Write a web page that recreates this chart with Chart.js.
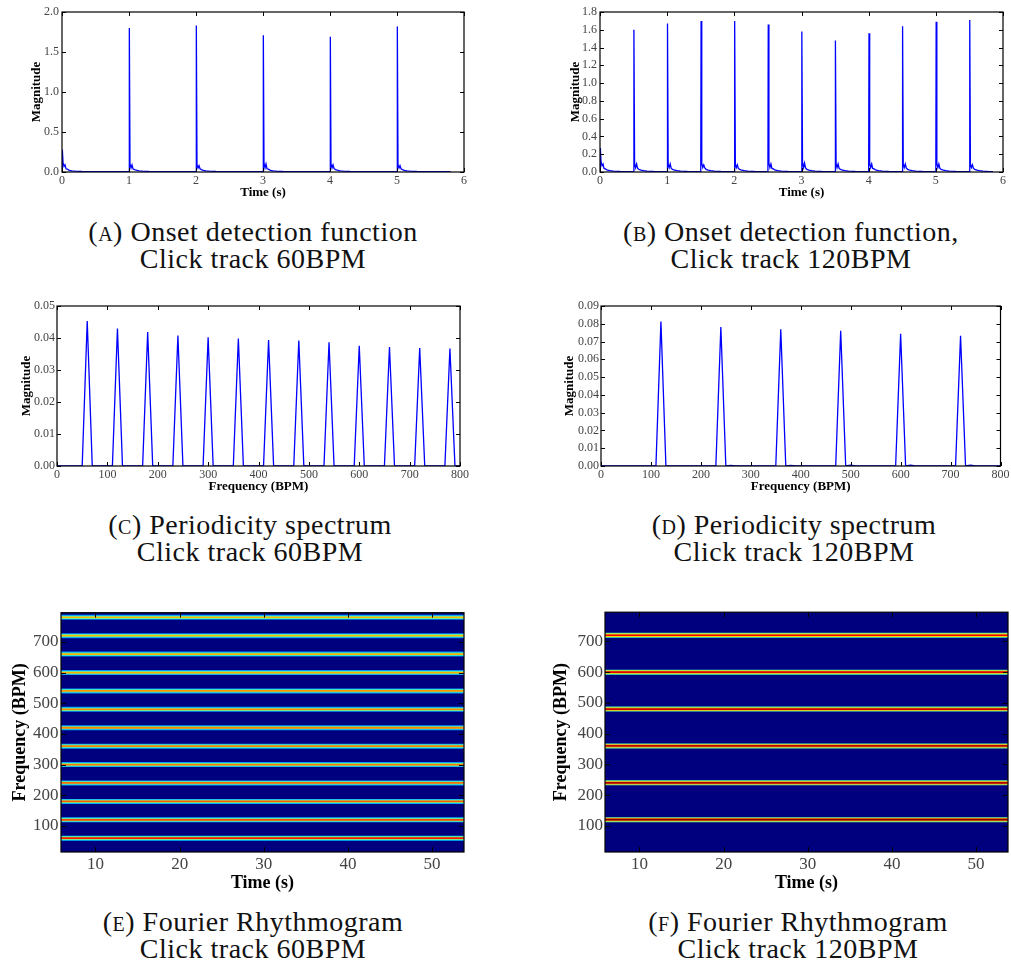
<!DOCTYPE html>
<html>
<head>
<meta charset="utf-8">
<script src="https://cdn.jsdelivr.net/npm/chart.js@4.4.1/dist/chart.umd.min.js"></script>
<style>
  body { margin: 0; background: #fff; width: 1011px; height: 972px; position: relative; overflow: hidden; }
  .box { position: absolute; }
  .cap { position: absolute; width: 500px; text-align: center; font-family: 'Liberation Serif', serif; font-size: 28px; line-height: 27px; color: #111; letter-spacing: 0.5px; }
  .sc { font-variant: small-caps; }
</style>
</head>
<body>
<div class="box" style="left:0;top:0"><canvas id="cA" width="474" height="202"></canvas></div>
<div class="box" style="left:540px;top:0"><canvas id="cB" width="471" height="202"></canvas></div>
<div class="box" style="left:0;top:290px"><canvas id="cC" width="474" height="206"></canvas></div>
<div class="box" style="left:540px;top:290px"><canvas id="cD" width="471" height="206"></canvas></div>
<div class="box" style="left:0;top:600px"><canvas id="cE" width="474" height="297"></canvas></div>
<div class="box" style="left:540px;top:600px"><canvas id="cF" width="471" height="297"></canvas></div>

<div class="cap" style="left:3px;top:218px">(<span class="sc">a</span>) Onset detection function<br>Click track 60BPM</div>
<div class="cap" style="left:541px;top:218px">(<span class="sc">b</span>) Onset detection function,<br>Click track 120BPM</div>
<div class="cap" style="left:0px;top:511px">(<span class="sc">c</span>) Periodicity spectrum<br>Click track 60BPM</div>
<div class="cap" style="left:544px;top:511px">(<span class="sc">d</span>) Periodicity spectrum<br>Click track 120BPM</div>
<div class="cap" style="left:3px;top:908px">(<span class="sc">e</span>) Fourier Rhythmogram<br>Click track 60BPM</div>
<div class="cap" style="left:548px;top:908px">(<span class="sc">f</span>) Fourier Rhythmogram<br>Click track 120BPM</div>

<script>
// --- onset detection function, click track 60 BPM (time in s, magnitude)
const timeA = [
  0, 0.005, 0.015, 0.03, 0.045, 0.06, 0.08, 0.11, 0.15, 0.2, 0.3, 0.45,
  1, 1.005, 1.015, 1.03, 1.045, 1.06, 1.08, 1.11, 1.15, 1.2, 1.3, 1.45,
  2, 2.005, 2.015, 2.03, 2.045, 2.06, 2.08, 2.11, 2.15, 2.2, 2.3, 2.45,
  3, 3.005, 3.015, 3.03, 3.045, 3.06, 3.08, 3.11, 3.15, 3.2, 3.3, 3.45,
  4, 4.005, 4.015, 4.03, 4.045, 4.06, 4.08, 4.11, 4.15, 4.2, 4.3, 4.45,
  5, 5.005, 5.015, 5.03, 5.045, 5.06, 5.08, 5.11, 5.15, 5.2, 5.3, 5.45, 5.8
];
const odfA = [
  0.0, 0.28, 0.12, 0.07, 0.09, 0.04, 0.035, 0.02, 0.015, 0.01, 0.006, 0.004,
  0.003, 1.80, 0.10, 0.05, 0.09, 0.04, 0.03, 0.022, 0.015, 0.01, 0.006, 0.004,
  0.003, 1.83, 0.09, 0.05, 0.08, 0.04, 0.03, 0.02, 0.015, 0.01, 0.006, 0.004,
  0.003, 1.71, 0.11, 0.05, 0.10, 0.04, 0.035, 0.02, 0.015, 0.01, 0.006, 0.004,
  0.003, 1.69, 0.10, 0.05, 0.09, 0.045, 0.03, 0.022, 0.015, 0.01, 0.006, 0.004,
  0.003, 1.82, 0.09, 0.05, 0.08, 0.04, 0.03, 0.02, 0.015, 0.01, 0.006, 0.004, 0.003
];

// --- onset detection function, click track 120 BPM
const timeB = [
  0, 0.005, 0.015, 0.03, 0.045, 0.06, 0.08, 0.11, 0.15, 0.2, 0.3, 0.4,
  0.5, 0.505, 0.515, 0.53, 0.545, 0.56, 0.58, 0.61, 0.65, 0.7, 0.8, 0.9,
  1, 1.005, 1.015, 1.03, 1.045, 1.06, 1.08, 1.11, 1.15, 1.2, 1.3, 1.4,
  1.5, 1.505, 1.515, 1.53, 1.545, 1.56, 1.58, 1.61, 1.65, 1.7, 1.8, 1.9,
  2, 2.005, 2.015, 2.03, 2.045, 2.06, 2.08, 2.11, 2.15, 2.2, 2.3, 2.4,
  2.5, 2.505, 2.515, 2.53, 2.545, 2.56, 2.58, 2.61, 2.65, 2.7, 2.8, 2.9,
  3, 3.005, 3.015, 3.03, 3.045, 3.06, 3.08, 3.11, 3.15, 3.2, 3.3, 3.4,
  3.5, 3.505, 3.515, 3.53, 3.545, 3.56, 3.58, 3.61, 3.65, 3.7, 3.8, 3.9,
  4, 4.005, 4.015, 4.03, 4.045, 4.06, 4.08, 4.11, 4.15, 4.2, 4.3, 4.4,
  4.5, 4.505, 4.515, 4.53, 4.545, 4.56, 4.58, 4.61, 4.65, 4.7, 4.8, 4.9,
  5, 5.005, 5.015, 5.03, 5.045, 5.06, 5.08, 5.11, 5.15, 5.2, 5.3, 5.4,
  5.5, 5.505, 5.515, 5.53, 5.545, 5.56, 5.58, 5.61, 5.65, 5.7, 5.8, 5.85
];
const odfB = [
  0.0, 0.27, 0.12, 0.07, 0.09, 0.04, 0.035, 0.02, 0.015, 0.01, 0.006, 0.004,
  0.003, 1.60, 0.10, 0.05, 0.09, 0.04, 0.03, 0.022, 0.015, 0.01, 0.006, 0.004,
  0.003, 1.67, 0.09, 0.05, 0.09, 0.04, 0.03, 0.02, 0.015, 0.01, 0.006, 0.004,
  0.003, 1.70, 0.10, 0.05, 0.08, 0.045, 0.03, 0.022, 0.015, 0.01, 0.006, 0.004,
  0.003, 1.70, 0.09, 0.05, 0.08, 0.04, 0.03, 0.02, 0.015, 0.01, 0.006, 0.004,
  0.003, 1.66, 0.10, 0.05, 0.09, 0.04, 0.035, 0.02, 0.015, 0.01, 0.006, 0.004,
  0.003, 1.58, 0.11, 0.05, 0.10, 0.045, 0.03, 0.022, 0.015, 0.01, 0.006, 0.004,
  0.003, 1.48, 0.10, 0.05, 0.09, 0.04, 0.03, 0.02, 0.015, 0.01, 0.006, 0.004,
  0.003, 1.56, 0.10, 0.05, 0.09, 0.04, 0.035, 0.02, 0.015, 0.01, 0.006, 0.004,
  0.003, 1.64, 0.09, 0.05, 0.09, 0.045, 0.03, 0.022, 0.015, 0.01, 0.006, 0.004,
  0.003, 1.69, 0.10, 0.05, 0.09, 0.04, 0.03, 0.02, 0.015, 0.01, 0.006, 0.004,
  0.003, 1.71, 0.09, 0.05, 0.08, 0.04, 0.03, 0.022, 0.015, 0.01, 0.005, 0.003
];

// --- periodicity spectra (frequency in BPM)
const freqC = [0, 50, 60, 70, 110, 120, 130, 170, 180, 190, 230, 240, 250, 290, 300, 310,
  350, 360, 370, 410, 420, 430, 470, 480, 490, 530, 540, 550, 590, 600, 610,
  650, 660, 670, 710, 720, 730, 770, 780, 790, 800];
const specC = [0, 0, 0.0453, 0, 0, 0.0430, 0, 0, 0.0419, 0, 0, 0.0408, 0, 0, 0.0402, 0,
  0, 0.0398, 0, 0, 0.0394, 0, 0, 0.0392, 0, 0, 0.0387, 0, 0, 0.0376, 0,
  0, 0.0372, 0, 0, 0.0369, 0, 0, 0.0367, 0, 0];

const freqD = [0, 110, 120, 130, 230, 240, 250, 260, 270, 350, 360, 370, 380, 390,
  470, 480, 490, 500, 510, 590, 600, 610, 620, 630, 710, 720, 730, 740, 750, 800];
const specD = [0, 0, 0.0812, 0, 0, 0.0782, 0, 0.0003, 0, 0, 0.0769, 0, 0.0003, 0,
  0, 0.0761, 0, 0.0005, 0, 0, 0.0744, 0, 0.0005, 0, 0, 0.0733, 0, 0.0005, 0, 0];

// --- rhythmogram rows (band frequency in BPM, band magnitude)
const bandsE = [60, 120, 180, 240, 300, 360, 420, 480, 540, 600, 660, 720, 780];
const levelsE = [0.0453, 0.0430, 0.0419, 0.0408, 0.0402, 0.0398, 0.0394, 0.0392, 0.0387, 0.0376, 0.0372, 0.0369, 0.0367];
const bandsF = [120, 240, 360, 480, 600, 720];
const levelsF = [0.0812, 0.0782, 0.0769, 0.0761, 0.0744, 0.0733];

// tick labels
const ticksTime = [0, 1, 2, 3, 4, 5, 6];
const ticksOdfA = [0, 0.5, 1.0, 1.5, 2.0];
const ticksOdfB = [0, 0.2, 0.4, 0.6, 0.8, 1.0, 1.2, 1.4, 1.6, 1.8];
const ticksBpm = [0, 100, 200, 300, 400, 500, 600, 700, 800];
const ticksSpecC = [0, 0.01, 0.02, 0.03, 0.04, 0.05];
const ticksSpecD = [0, 0.01, 0.02, 0.03, 0.04, 0.05, 0.06, 0.07, 0.08, 0.09];
const ticksRhyX = [10, 20, 30, 40, 50];
const ticksRhyY = [100, 200, 300, 400, 500, 600, 700];

function jet(v) {
  const c = (x) => Math.round(255 * Math.max(0, Math.min(1, x)));
  return "rgb(" + c(1.5 - Math.abs(4 * v - 3)) + "," + c(1.5 - Math.abs(4 * v - 2)) + "," + c(1.5 - Math.abs(4 * v - 1)) + ")";
}

// background, inward ticks on four sides and black frame (matplotlib look)
const framePlugin = {
  id: "frame",
  beforeDatasetsDraw(chart, args, opts) {
    if (!opts.bg) return;
    const a = chart.chartArea, ctx = chart.ctx;
    ctx.save();
    ctx.fillStyle = opts.bg;
    ctx.fillRect(a.left, a.top, a.right - a.left, a.bottom - a.top);
    ctx.restore();
  },
  afterDatasetsDraw(chart, args, opts) {
    const a = chart.chartArea, ctx = chart.ctx;
    const len = opts.len || 4;
    ctx.save();
    ctx.strokeStyle = "#000";
    ctx.lineWidth = 1;
    ctx.beginPath();
    chart.scales.x.ticks.forEach((t) => {
      const px = Math.round(chart.scales.x.getPixelForValue(t.value)) + 0.5;
      ctx.moveTo(px, a.bottom); ctx.lineTo(px, a.bottom - len);
      ctx.moveTo(px, a.top); ctx.lineTo(px, a.top + len);
    });
    chart.scales.y.ticks.forEach((t) => {
      const py = Math.round(chart.scales.y.getPixelForValue(t.value)) + 0.5;
      ctx.moveTo(a.left, py); ctx.lineTo(a.left + len, py);
      ctx.moveTo(a.right, py); ctx.lineTo(a.right - len, py);
    });
    ctx.stroke();
    ctx.lineWidth = opts.frame || 1.2;
    ctx.strokeRect(a.left, a.top, a.right - a.left, a.bottom - a.top);
    ctx.restore();
  }
};
Chart.register(framePlugin);

function makeChart(id, datasets, o) {
  const tickFont = { family: "Liberation Serif", size: o.tickSize };
  const titleFont = { family: "Liberation Serif", size: o.titleSize, weight: "bold", lineHeight: 1.2 };
  return new Chart(document.getElementById(id), {
    type: "line",
    data: { datasets: datasets },
    options: {
      responsive: false,
      animation: false,
      events: [],
      layout: { padding: { top: o.pt, right: o.pr, left: 0, bottom: 0 } },
      elements: { point: { radius: 0 }, line: { tension: 0 } },
      plugins: { legend: { display: false }, tooltip: { enabled: false }, frame: { bg: o.bg, len: o.len } },
      scales: {
        x: {
          type: "linear", min: o.xmin, max: o.xmax,
          afterFit: (s) => { s.height = o.xh; },
          afterBuildTicks: (s) => { s.ticks = o.xticks.map((v) => ({ value: v })); },
          grid: { display: false, drawTicks: false },
          border: { display: false },
          ticks: { autoSkip: false, maxRotation: 0, padding: o.xtp, color: "#444", font: tickFont,
            callback: (v) => v.toFixed(o.xdec) },
          title: { display: true, text: o.xtitle, color: "#000", font: titleFont, padding: { top: 0, bottom: o.xtitlePad } }
        },
        y: {
          type: "linear", min: o.ymin, max: o.ymax,
          afterFit: (s) => { s.width = o.yw; },
          afterBuildTicks: (s) => { s.ticks = o.yticks.map((v) => ({ value: v })); },
          grid: { display: false, drawTicks: false },
          border: { display: false },
          ticks: { autoSkip: false, padding: o.ytp, color: "#444", font: tickFont,
            callback: (v) => v.toFixed(o.ydec) },
          title: { display: true, text: o.ytitle, color: "#000", font: titleFont, padding: { top: o.ytitlePad, bottom: 0 } }
        }
      }
    }
  });
}

function lineSet(xs, ys) {
  return [{ data: xs.map((x, i) => ({ x: x, y: ys[i] })), borderColor: "#0000ff", borderWidth: 1.3, fill: false }];
}

// each band: three stacked stripes coloured with the jet colormap;
// a lower "order" is painted later, so the narrow centre stripe gets the lowest
function bandSets(bands, levels, norm, fracs, widths, xmin, xmax) {
  const sets = [];
  bands.forEach((f, i) => {
    const r = levels[i] / norm;
    fracs.forEach((k, j) => {
      sets.push({ data: [{ x: xmin, y: f }, { x: xmax, y: f }], borderColor: jet(r * k), borderWidth: widths[j],
        borderCapStyle: "butt", fill: false, order: fracs.length - j });
    });
  });
  return sets;
}

const small = { tickSize: 12, titleSize: 13, xh: 30, xtp: 1.5, len: 4 };

makeChart("cA", lineSet(timeA, odfA), Object.assign({}, small, {
  pt: 12, pr: 10, yw: 62, ytp: 3,
  xmin: 0, xmax: 6, xticks: ticksTime, xdec: 0, xtitle: "Time (s)", xtitlePad: 2,
  ymin: 0, ymax: 2, yticks: ticksOdfA, ydec: 1, ytitle: "Magnitude", ytitlePad: 29
}));
makeChart("cB", lineSet(timeB, odfB), Object.assign({}, small, {
  pt: 12, pr: 8, yw: 60, ytp: 3,
  xmin: 0, xmax: 6, xticks: ticksTime, xdec: 0, xtitle: "Time (s)", xtitlePad: 2,
  ymin: 0, ymax: 1.8, yticks: ticksOdfB, ydec: 1, ytitle: "Magnitude", ytitlePad: 28
}));
makeChart("cC", lineSet(freqC, specC), Object.assign({}, small, {
  pt: 16, pr: 14, yw: 57, ytp: 2,
  xmin: 0, xmax: 800, xticks: ticksBpm, xdec: 0, xtitle: "Frequency (BPM)", xtitlePad: 2,
  ymin: 0, ymax: 0.05, yticks: ticksSpecC, ydec: 2, ytitle: "Magnitude", ytitlePad: 19
}));
makeChart("cD", lineSet(freqD, specD), Object.assign({}, small, {
  pt: 16, pr: 8, yw: 61, ytp: 2,
  xmin: 0, xmax: 800, xticks: ticksBpm, xdec: 0, xtitle: "Frequency (BPM)", xtitlePad: 2,
  ymin: 0, ymax: 0.09, yticks: ticksSpecD, ydec: 2, ytitle: "Magnitude", ytitlePad: 22
}));

const rhyXmin = 5.9, rhyXmax = 53.8;
const big = { tickSize: 17, titleSize: 18, xh: 45, xtp: 2, len: 5, bg: "#00007f",
  xmin: rhyXmin, xmax: rhyXmax, xticks: ticksRhyX, xdec: 0, xtitle: "Time (s)", xtitlePad: 3,
  ymin: 15, ymax: 795, yticks: ticksRhyY, ydec: 0, ytitle: "Frequency (BPM)" };

makeChart("cE", bandSets(bandsE, levelsE, 0.053, [0.38, 0.62, 1], [5, 3.2, 1.8], rhyXmin, rhyXmax),
  Object.assign({}, big, { pt: 10, pr: 10, yw: 61, ytp: 2.5, ytitlePad: 10 }));
makeChart("cF", bandSets(bandsF, levelsF, 0.082, [0.5, 0.75, 1], [5, 3.3, 1.7], rhyXmin, rhyXmax),
  Object.assign({}, big, { pt: 10, pr: 3, yw: 65, ytp: 2, ytitlePad: 11 }));
</script>
</body>
</html>
